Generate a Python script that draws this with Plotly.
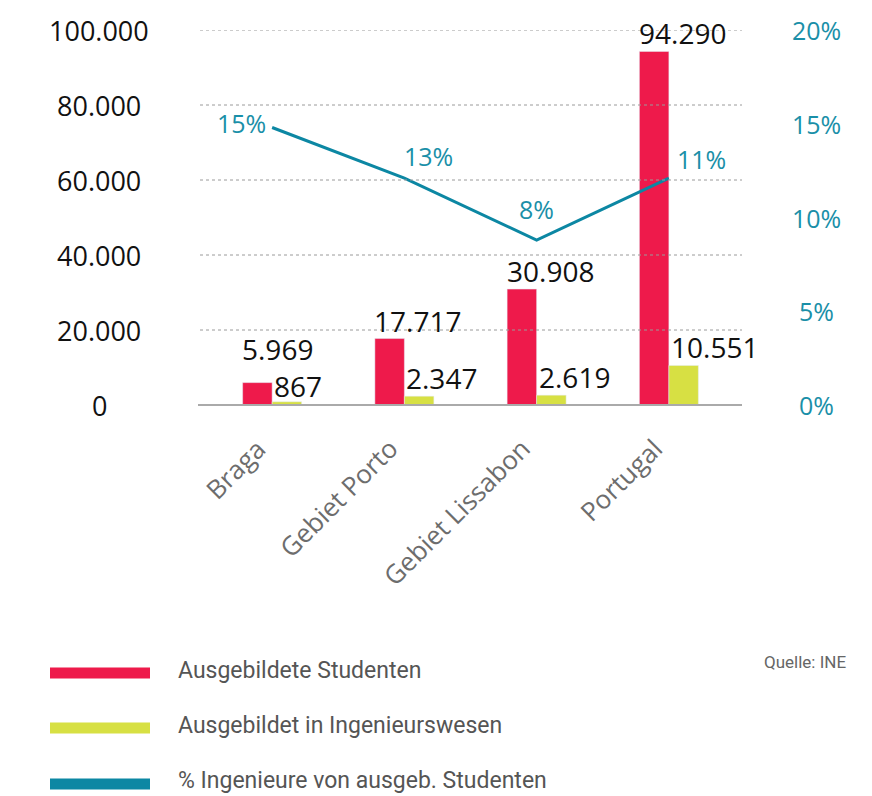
import plotly.graph_objects as go

# ---- data ----
categories = ["Braga", "Gebiet Porto", "Gebiet Lissabon", "Portugal"]
students = [5969, 17717, 30908, 94290]
engineers = [867, 2347, 2619, 10551]
pct_line = [14.8, 12.1, 8.8, 12.1]
pct_labels = ["15%", "13%", "8%", "11%"]
left_ticks = [0, 20000, 40000, 60000, 80000, 100000]
right_ticks = [0, 5, 10, 15, 20]
legend_names = ["Ausgebildete Studenten", "Ausgebildet in Ingenieurswesen",
                "% Ingenieure von ausgeb. Studenten"]
source_text = "Quelle: INE"

RED = "#ee1a4b"
YELLOW = "#d7e043"
TEAL = "#0c87a3"
W, H = 872, 796
L, R, T, B = 206, 137, 30, 391
PW, PH = W - L - R, H - T - B


def px2x(px):
    return (px - L) / PW


def px2y(py):
    return (H - B - py) / PH


def fmt(v):
    return f"{v:,}".replace(",", ".")


fig = go.Figure()
fig.add_trace(go.Bar(x=categories, y=students, marker_color=RED, name=legend_names[0]))
fig.add_trace(go.Bar(x=categories, y=engineers, marker_color=YELLOW, name=legend_names[1]))
fig.add_trace(go.Scatter(x=categories, y=pct_line, yaxis="y2", mode="lines",
                         line=dict(color=TEAL, width=3), name=legend_names[2]))

shapes = []
for v in left_ticks[1:]:
    shapes.append(dict(type="line", xref="paper", yref="y", x0=px2x(200), x1=px2x(742),
                       y0=v, y1=v, line=dict(color="#9a9a9a", width=1, dash="dot")))
shapes.append(dict(type="line", xref="paper", yref="paper", x0=px2x(198), x1=px2x(742),
                   y0=0, y1=0, line=dict(color="#aaaaaa", width=2)))

annotations = []
NUMFONT = dict(family="Open Sans", size=27, color="#111111")
for v in left_ticks:
    annotations.append(dict(xref="paper", yref="y", x=px2x(99), y=v, text=fmt(v),
                            showarrow=False, xanchor="center", yanchor="middle", font=NUMFONT))
for v in right_ticks:
    annotations.append(dict(xref="paper", yref="y2", x=px2x(816), y=v, text=f"{v}%",
                            showarrow=False, xanchor="center", yanchor="middle",
                            font=dict(family="Open Sans", size=25, color="#1a8fa8")))

# category labels, rotated
for c in categories:
    annotations.append(dict(x=c, xref="x", yref="paper", y=px2y(430), text=c,
                            showarrow=False, textangle=-45, xanchor="right", yanchor="top",
                            xshift=2, borderpad=0,
                            font=dict(family="Open Sans", size=26, color="#6d6d6d")))

label_font = dict(family="Open Sans", size=28, color="#111111")
red_yshift = [14, -2, -2, -2]
for c, v, ys in zip(categories, students, red_yshift):
    annotations.append(dict(x=c, y=v, xref="x", yref="y", text=fmt(v), showarrow=False,
                            xanchor="left", yanchor="bottom", xshift=-31, yshift=ys,
                            borderpad=0, font=label_font))
yel_yshift = [-4, -2, -2, -2]
for c, v, ys in zip(categories, engineers, yel_yshift):
    annotations.append(dict(x=c, y=v, xref="x", yref="y", text=fmt(v), showarrow=False,
                            xanchor="left", yanchor="bottom", xshift=1, yshift=ys,
                            borderpad=0, font=label_font))

pct_offsets = [("right", -4, 5), ("left", -2, 22), ("center", 0, 31), ("left", 6, 19)]
for c, v, t, (xa, xs, ys) in zip(categories, pct_line, pct_labels, pct_offsets):
    annotations.append(dict(x=c, y=v, xref="x", yref="y2", text=t, showarrow=False,
                            xanchor=xa, yanchor="middle", xshift=xs, yshift=ys,
                            font=dict(family="Open Sans", size=25, color="#1a8fa8")))

LEGFONT = "Liberation Sans Narrow, Roboto, sans-serif"
for name, col, py in zip(legend_names, [RED, YELLOW, TEAL], [673, 728, 784]):
    shapes.append(dict(type="rect", xref="paper", yref="paper", x0=px2x(50), x1=px2x(150),
                       y0=px2y(py - 5.5), y1=px2y(py + 5.5), fillcolor=col,
                       line=dict(width=0)))
    annotations.append(dict(xref="paper", yref="paper", x=px2x(176), y=px2y(py - 3),
                            text=name, showarrow=False, xanchor="left", yanchor="middle",
                            font=dict(family=LEGFONT, size=23, color="#555555")))
annotations.append(dict(xref="paper", yref="paper", x=px2x(848), y=px2y(662),
                        text=source_text, showarrow=False, xanchor="right", yanchor="middle",
                        font=dict(family=LEGFONT, size=17, color="#666666")))

fig.update_layout(
    width=W, height=H,
    margin=dict(l=L, r=R, t=T, b=B, autoexpand=False),
    paper_bgcolor="white", plot_bgcolor="white",
    barmode="group", bargap=0.554, bargroupgap=0,
    showlegend=False,
    separators=",.",
    font=dict(family="Open Sans"),
    xaxis=dict(range=[-0.5, 3.5], autorange=False, showgrid=False, zeroline=False,
               showline=False, ticks="", showticklabels=False),
    yaxis=dict(range=[0, 100000], showgrid=False, zeroline=False, showline=False,
               showticklabels=False, ticks=""),
    yaxis2=dict(range=[0, 20], overlaying="y", side="right", showgrid=False,
                zeroline=False, showline=False, showticklabels=False, ticks=""),
    shapes=shapes,
    annotations=annotations,
)

fig.write_html("out.html")
